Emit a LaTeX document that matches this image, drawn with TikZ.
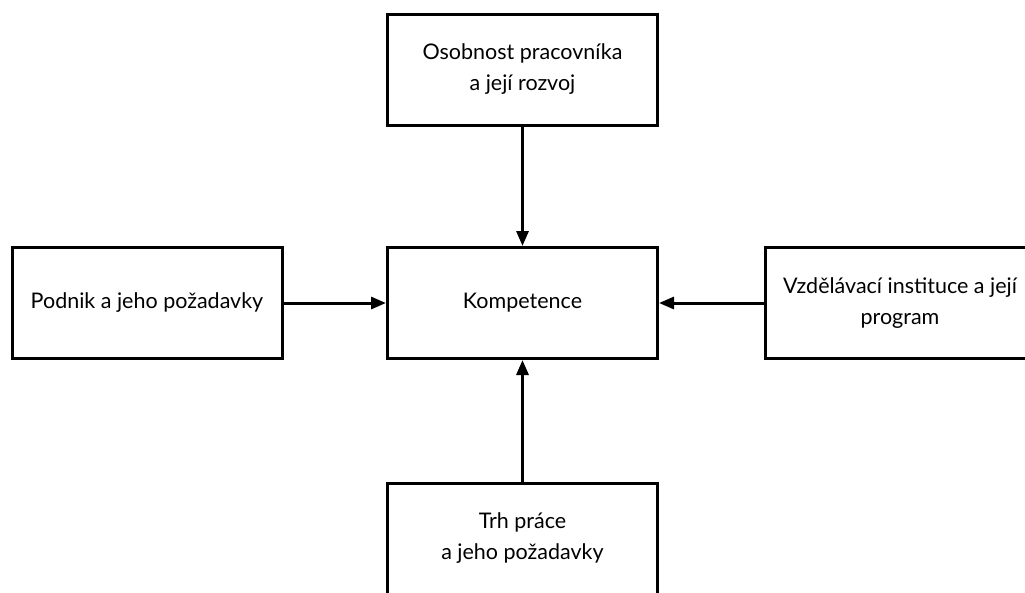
\documentclass[tikz,border=0pt]{standalone}
\usepackage{fontspec}
\setmainfont{Lato}
\usepackage{tikz}
\usetikzlibrary{arrows.meta,positioning}

\begin{document}
\begin{tikzpicture}[x=1pt,y=1pt]
	\tikzset{factor/.style={draw,line width=3pt,rectangle,align=center,
		minimum width=270pt,minimum height=111pt,inner sep=0pt,
		font=\fontsize{21.5}{31}\selectfont}}
	\tikzset{influence/.style={line width=3pt,-{Triangle[length=15pt,width=12pt]}}}
	\useasboundingbox (0,0) rectangle (1025,-592);

	%% Boxes
	\node[factor] (comp) at (522.5,-303) {Kompetence};
	\node[factor] (person) at (522.5,-69.5) {Osobnost pracovníka\\a její rozvoj};
	\node[factor] (firm) at (147,-303) {Podnik a jeho požadavky};
	\node[factor] (school) at (900,-303) {Vzdělávací instituce a její\\program};
	\node[factor] (market) at (522.5,-538.5) {Trh práce\\a jeho požadavky};

	%% Arrows into the centre
	\path[influence]
		(person) edge (comp)
		(firm) edge (comp)
		(school) edge (comp)
		(market) edge (comp);
\end{tikzpicture}
\end{document}
